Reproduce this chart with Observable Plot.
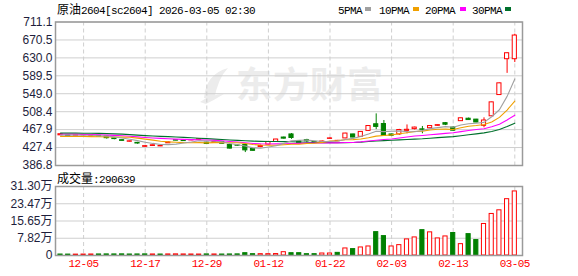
<!DOCTYPE html>
<html><head><meta charset="utf-8">
<script src="https://cdn.jsdelivr.net/npm/d3@7"></script>
<script src="https://cdn.jsdelivr.net/npm/@observablehq/plot@0.6"></script>
<style>
body{margin:0;background:#fff;}
#wrap{position:relative;width:578px;height:276px;overflow:hidden;background:#fff;}
.abs{position:absolute;white-space:nowrap;line-height:15px;}
.mono{font-family:"Liberation Mono","DejaVu Sans Mono",monospace;font-size:11px;letter-spacing:-0.6px;}
.cjk{font-family:"Noto Sans CJK SC",sans-serif;font-size:12px;}
.sq{position:absolute;width:6px;height:4px;}
svg.plt{position:absolute;left:0;}
</style></head><body><div id="wrap"></div>
<script>
const dates = ["12-02","12-03","12-04","12-05","12-08","12-09","12-10","12-11","12-12","12-15","12-16","12-17","12-18","12-19","12-22","12-23","12-24","12-25","12-26","12-29","12-30","12-31","01-05","01-06","01-07","01-08","01-09","01-12","01-13","01-14","01-15","01-16","01-19","01-20","01-21","01-22","01-23","01-26","01-27","01-28","01-29","01-30","02-02","02-03","02-04","02-05","02-06","02-09","02-10","02-11","02-12","02-13","02-24","02-25","02-26","02-27","03-02","03-03","03-04","03-05"];
const opens = [455,455,454,455,454,454,452.5,448,444,440.5,438,429,431,430,437,444,443,443.5,445,438.5,438,440,433,432,433,424,428.5,434,440,450,457,441.5,444,440,438.5,447,441.5,448,457,451.6,465,480,480.5,457,457,465,469,468.5,471,476.5,482.5,472.5,487,492.5,490.5,476.5,498,546,627,627];
const highs = [458.5,455.5,456.5,456.5,455.5,454.5,453,448.5,445,442,439,432,433.5,431.5,440,444.5,443.5,445,447,439,441,441,433.5,433,434,425,433,440.5,446,451,459,442.5,446,440.5,442,449.5,443.5,459.5,457.5,463,476.5,503.5,488.5,457.5,468.5,478.5,473.5,475,476.5,479,484,474,494,494,491,494.5,530,573,641.5,683.5];
const lows = [454.5,452.5,453.5,454,453.5,452,446.5,445,441.5,439.5,435,428,430,429.5,436.5,442.5,441.5,443,444.5,435,437.5,435.5,424,430,416,419,427,433.5,439.5,446.5,446,436.5,437,437,438,446,441,447.5,449.5,451,464.5,468,453,453.5,455,458.5,467,458.5,470.5,475,477,464.5,486.5,488.5,483.5,472,497.5,545.5,595,619.5];
const closes = [457.5,453,455.5,455.5,454.5,452.5,448.5,446.5,442.5,441.5,436.5,430.5,432.5,431,439,443,442,444,446,435.5,440,436,425,431.5,421,420,431,440,445.5,447.5,449,437,441.5,437.5,441,448,442.5,459,450,462.7,476,474,454,454,467,467.5,472.5,467.5,476,478,479,465.5,493.5,489.5,484,488.5,529.5,572.5,640.5,680.5];
const ma5 = [455.5,455.5,455.5,455.3,455.2,454.2,453.3,451.5,448.9,446.3,443.1,439.5,436.7,434.4,433.9,435.2,437.5,439.8,442.8,442.1,441.5,440.3,436.5,433.6,430.7,426.7,425.7,428.7,431.5,436.8,442.6,443.8,444.1,442.5,441.2,441,442.1,445.6,448.1,452.4,458,464.3,463.3,464.1,465,463.3,463,465.7,470.1,472.3,474.6,473.2,478.4,481.1,482.3,484.2,497,512.8,543,582.3];
const ma10 = [452.5,452.5,452.3,452.2,452,451.8,451.5,451.2,451,450.8,448.7,446.5,444.2,441.7,440.1,439.2,438.5,438.3,438.6,438,438.4,438.9,438.2,438.2,436.4,434.1,433,432.6,432.6,433.8,434.7,434.8,436.4,437,439,441.8,443,444.9,445.3,446.8,449.5,453.2,454.5,456.1,458.7,460.7,463.7,464.5,467.1,468.7,469,468.1,472.1,475.6,477.3,479.4,485.1,495.6,512.1,532.3];
const ma20 = [457.5,457.5,457.3,457,456.7,456.3,455.5,454.8,454,452.8,451.5,450.2,449,448,447.2,446.5,445.8,445.2,444.8,444.4,443.5,442.7,441.2,439.9,438.3,436.6,435.8,435.4,435.6,435.9,436.5,436.8,437.3,437.6,437.7,438,438,438.7,438.9,440.3,442.1,444,445.4,446.6,448.9,451.2,453.4,454.7,456.2,457.8,459.3,460.7,463.3,465.8,468,470,474.4,480,489.6,500.5];
const ma30 = [460,460,460,459.8,459.6,459.3,458.8,458.3,457.6,456.5,455.5,454.3,453.3,452.6,452,451.3,450.4,449.5,448.5,447.5,446.5,445.5,444.5,443.5,442.6,441.9,441.4,441.1,440.9,440.8,440.5,440,439.5,438.9,438.5,438.4,438.2,438.6,438.9,439.6,440.9,442.3,443,443.8,444.7,445.6,446.5,447.2,448.3,449.7,451,452,454.2,456.2,458.3,460.5,463.8,468.2,474.7,482.5];
const volumes = [4500,4200,4000,4300,4600,4800,5000,4900,5200,4600,4800,5100,4700,4500,4900,5200,4800,4600,4400,5000,4700,4500,4800,5100,10500,6000,6000,6000,6500,15000,10500,10500,6000,6000,9000,9000,12000,32000,29000,36500,41000,106000,88000,41000,47000,73000,82000,115000,105000,77500,86500,102000,51500,97000,70000,143000,188500,205000,255500,290639];
const volDir = [-1,-1,1,1,1,-1,-1,-1,-1,-1,-1,-1,1,-1,1,1,1,1,1,-1,1,-1,-1,-1,-1,-1,1,1,1,1,-1,-1,-1,-1,1,1,-1,1,-1,1,1,-1,-1,1,1,1,1,-1,1,1,1,-1,1,-1,-1,1,1,1,1,1];
const priceTicks = [386.8,427.4,467.9,508.4,549.0,589.5,630.0,670.5,711.1];
const volTicks = [0,78250,156500,234750,313000];
const volTickLabels = ["0","7.82万","15.65万","23.47万","31.30万"];
const labelIdx = [3,11,19,27,35,43,51,59];
const maNames = ["5PMA","10PMA","20PMA","30PMA"];
const maColors = ["#a0a0a0","#f0a000","#ff00ff","#00702c"];
const titleCn = "原油", titleLatin = "2604[sc2604] 2026-03-05 02:30";
const volLabelCn = "成交量", volLabelLatin = ":290639";

const RED = "#ff0000", GREEN = "#008000";
const candles = dates.map((d,i)=>({i, open:opens[i], high:highs[i], low:lows[i], close:closes[i]}));
const vols = dates.map((d,i)=>({i, v:volumes[i], dir:volDir[i]}));
const xs = {type:"linear", domain:[-0.65,60], axis:null};
const baseStyle = {fontFamily:"'Liberation Sans',Arial,'Noto Sans CJK SC',sans-serif", fontSize:"12px", background:"transparent", overflow:"visible"};
const up = d => d.close >= d.open;

const price = Plot.plot({
  width:578, height:170, marginTop:21.5, marginBottom:5, marginLeft:55, marginRight:56,
  x: xs, y:{domain:[386.8,711.1], axis:null, label:null}, color:{type:"identity"},
  style: baseStyle,
  marks:[
    Plot.ruleY(priceTicks,{stroke:"#cfcfcf"}),
    Plot.ruleX(labelIdx,{stroke:"#cfcfcf", strokeDasharray:"4,3"}),
    Plot.frame({stroke:"#9a9a9a", strokeWidth:1.5}),
    Plot.axisY(priceTicks,{tickSize:0, tickPadding:3, label:null, tickFormat:d=>d.toFixed(1), color:"#1e1e3c", fontSize:12}),
    Plot.ruleX(candles,{x:"i", y1:"low", y2:"high", stroke:d=>up(d)?RED:GREEN}),
    Plot.rect(candles,{x1:d=>d.i-0.27, x2:d=>d.i+0.27, y1:"open", y2:"close", fill:d=>up(d)?"#fff":GREEN, stroke:d=>up(d)?RED:GREEN}),
    Plot.line(ma30,{x:(d,i)=>i, y:d=>d, stroke:maColors[3], strokeWidth:1.1}),
    Plot.line(ma20,{x:(d,i)=>i, y:d=>d, stroke:maColors[2], strokeWidth:1.1}),
    Plot.line(ma10,{x:(d,i)=>i, y:d=>d, stroke:maColors[1], strokeWidth:1.1}),
    Plot.line(ma5,{x:(d,i)=>i, y:d=>d, stroke:maColors[0], strokeWidth:1.1})
  ]
});
price.classList.add("plt"); price.style.top = "0px";

const vol = Plot.plot({
  width:578, height:106, marginTop:16, marginBottom:21, marginLeft:55, marginRight:56,
  x: xs, y:{domain:[0,313000], axis:null, label:null}, color:{type:"identity"},
  style: baseStyle,
  marks:[
    Plot.ruleY(volTicks,{stroke:"#cfcfcf"}),
    Plot.ruleX(labelIdx,{stroke:"#cfcfcf", strokeDasharray:"4,3"}),
    Plot.rect(vols,{x1:d=>d.i-0.27, x2:d=>d.i+0.27, y1:0, y2:"v", fill:d=>d.dir>0?"#fff":GREEN, stroke:d=>d.dir>0?RED:GREEN}),
    Plot.frame({stroke:"#9a9a9a", strokeWidth:1.5}),
    Plot.axisY(volTicks,{tickSize:0, tickPadding:3, label:null, tickFormat:d=>volTickLabels[volTicks.indexOf(d)], color:"#1e1e3c", fontSize:12}),
    Plot.text(labelIdx,{x:d=>d, frameAnchor:"bottom", dy:11, text:d=>dates[d], fill:RED, fontFamily:"'Liberation Mono','DejaVu Sans Mono',monospace", fontSize:11})
  ]
});
vol.classList.add("plt"); vol.style.top = "170px";
d3.select(vol).selectAll('g[aria-label="text"] text').style("letter-spacing","-0.6px");

const wrap = document.getElementById("wrap");
// watermark
const wm = document.createElement("div");
wm.className = "abs";
wm.style.cssText = "left:236px;top:60px;font:bold 36px 'Noto Sans CJK SC',sans-serif;color:#ececec;line-height:44px;letter-spacing:1px;";
wm.textContent = "东方财富";
wrap.appendChild(wm);
const logo = document.createElementNS("http://www.w3.org/2000/svg","svg");
logo.setAttribute("width","34"); logo.setAttribute("height","40");
logo.style.cssText = "position:absolute;left:198px;top:64px;";
logo.innerHTML = '<path d="M6 34 Q8 10 30 4 Q20 14 16 36 Z" fill="#ececec"/><path d="M2 38 Q14 30 26 30 Q16 36 8 40 Z" fill="#ececec"/>';
wrap.appendChild(logo);
wrap.appendChild(price);
wrap.appendChild(vol);

function addText(left, top, cn, latin){
  const el = document.createElement("div");
  el.className = "abs"; el.style.left = left+"px"; el.style.top = top+"px";
  if (cn) { const s = document.createElement("span"); s.className="cjk"; s.textContent = cn; el.appendChild(s); }
  const m = document.createElement("span"); m.className="mono"; m.textContent = latin; el.appendChild(m);
  wrap.appendChild(el);
}
addText(57, 1, titleCn, titleLatin);
addText(57, 170, volLabelCn, volLabelLatin);
const legX = [338, 379, 425, 472], sqX = [365, 413, 460, 505];
maNames.forEach((n,k)=>{
  addText(legX[k], 1, "", n);
  const sq = document.createElement("div"); sq.className="sq";
  sq.style.left = sqX[k]+"px"; sq.style.top = "7px"; sq.style.background = maColors[k];
  wrap.appendChild(sq);
});
</script></body></html>
